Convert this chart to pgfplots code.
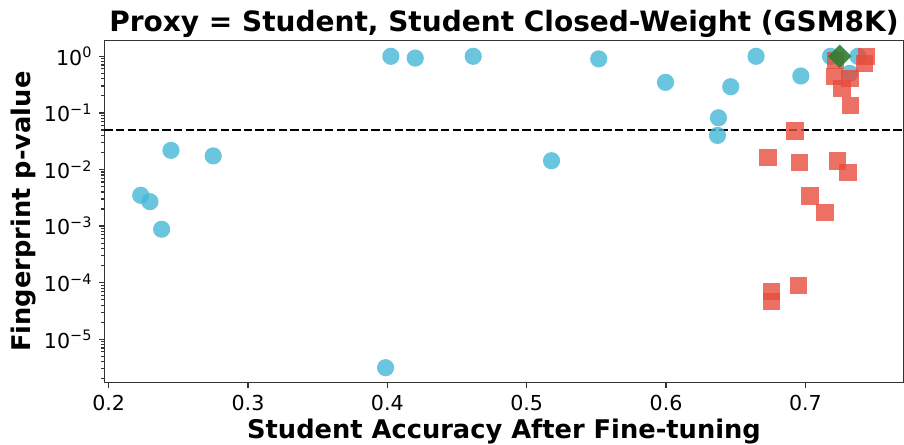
\documentclass[border=0pt]{standalone}
\usepackage{fontspec}
\setmainfont{DejaVu Sans}
\usepackage{pgfplots}
\pgfplotsset{compat=1.18}
\definecolor{cblue}{RGB}{69,183,214}
\definecolor{cred}{RGB}{231,76,60}
\definecolor{cgreen}{RGB}{46,125,50}
\begin{document}
\begin{tikzpicture}
\begin{axis}[
  at={(0,0)}, anchor=south west,
  scale only axis, width=399.5pt, height=171pt,
  ymode=log,
  xmin=0.197, xmax=0.7704, ymin=1.71e-6, ymax=1.887,
  axis line style={black!80, line width=0.6pt},
  tick align=outside, tick pos=left,
  major tick length=2.5pt, minor tick length=1.5pt,
  every tick/.style={black!80, line width=0.6pt},
  xtick={0.2,0.3,0.4,0.5,0.6,0.7},
  xticklabels={0.2,0.3,0.4,0.5,0.6,0.7},
  ytick={1e-5,1e-4,1e-3,1e-2,1e-1,1},
  yticklabels={10\textsuperscript{−5},10\textsuperscript{−4},10\textsuperscript{−3},10\textsuperscript{−2},10\textsuperscript{−1},10\textsuperscript{0}},
  minor ytick={2e-6,3e-6,4e-6,5e-6,6e-6,7e-6,8e-6,9e-6,
    2e-5,3e-5,4e-5,5e-5,6e-5,7e-5,8e-5,9e-5,
    2e-4,3e-4,4e-4,5e-4,6e-4,7e-4,8e-4,9e-4,
    2e-3,3e-3,4e-3,5e-3,6e-3,7e-3,8e-3,9e-3,
    2e-2,3e-2,4e-2,5e-2,6e-2,7e-2,8e-2,9e-2,
    2e-1,3e-1,4e-1,5e-1,6e-1,7e-1,8e-1,9e-1},
  ticklabel style={font=\fontsize{10.3}{12}\selectfont},
  /pgf/number format/assume math mode=true,
  title={Proxy = Student, Student Closed-Weight (GSM8K)},
  every axis title/.style={font=\bfseries\fontsize{14}{16}\selectfont, at={(axis description cs:0.5,1)}, anchor=base, yshift=4.6pt},
  xlabel={Student Accuracy After Fine-tuning},
  every axis x label/.style={font=\bfseries\fontsize{12.85}{15}\selectfont, at={(axis description cs:0.5,0)}, anchor=base, yshift=-27.8pt},
  ylabel={Fingerprint p-value},
  every axis y label/.style={font=\bfseries\fontsize{12.85}{15}\selectfont, at={(axis description cs:-0.0924,0.5)}, anchor=base, rotate=90},
]
\addplot[only marks, mark=*, mark size=4.3pt, color=cblue, mark options={draw opacity=0, fill opacity=0.8}] coordinates {
(0.2230,0.0035) (0.2296,0.0027) (0.2380,0.00088) (0.2447,0.0218) (0.2750,0.0174)
(0.3987,3.15e-6) (0.4025,1.0) (0.4200,0.93) (0.4616,1.0) (0.5178,0.0143)
(0.5517,0.90) (0.5996,0.347) (0.6369,0.040) (0.6376,0.082) (0.6464,0.29)
(0.6646,1.0) (0.6967,0.449) (0.7180,1.0) (0.7318,0.50) (0.7377,1.0)
};
\addplot[only marks, mark=square*, mark size=4.3pt, color=cred, mark options={draw opacity=0, fill opacity=0.8}] coordinates {
(0.6732,0.0162) (0.6756,6.9e-5) (0.6756,4.6e-5) (0.6926,0.048) (0.6950,8.9e-5)
(0.6959,0.0132) (0.7033,0.0034) (0.7140,0.00175) (0.7210,0.44) (0.7215,0.85)
(0.7232,0.0141) (0.7262,0.27) (0.7306,0.0088) (0.7320,0.41) (0.7322,0.134)
(0.7425,0.75) (0.7438,1.0)
};
\addplot[only marks, mark=square*, mark size=4.14pt, color=cgreen, mark options={rotate=45, draw opacity=0, fill opacity=0.9}] coordinates {
(0.7246,1.0)
};
\addplot[black, line width=1.1pt, dash pattern=on 4.2pt off 1.6pt] coordinates {(0.197,0.05) (0.7704,0.05)};
\end{axis}
\pgfresetboundingbox
\path[use as bounding box] (-52.25pt,-30.65pt) rectangle (399.75pt,191.35pt);
\end{tikzpicture}
\end{document}
